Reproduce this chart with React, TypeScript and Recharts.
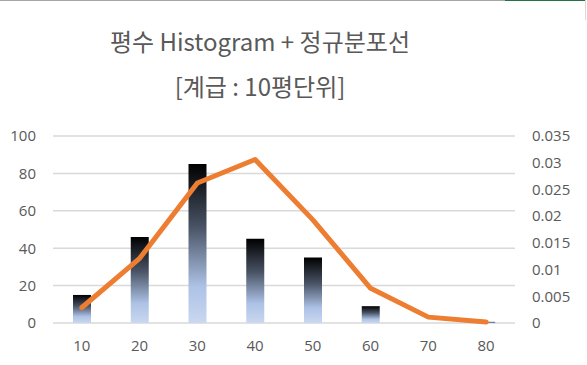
import React from "react";
import {
  ComposedChart,
  Bar,
  Line,
  XAxis,
  YAxis,
  CartesianGrid,
} from "recharts";

const classes = ["10", "20", "30", "40", "50", "60", "70", "80"];
const counts = [15, 46, 85, 45, 35, 9, 0, 0.6];
const normalDensity = [0.0029, 0.0121, 0.0262, 0.0306, 0.0193, 0.0065, 0.0011, 0.0002];
const leftTicks = [0, 20, 40, 60, 80, 100];
const rightTicks = [0, 0.005, 0.01, 0.015, 0.02, 0.025, 0.03, 0.035];

const data = classes.map((c, i) => ({
  cls: c,
  count: counts[i],
  density: normalDensity[i],
}));

const FONT = "'Noto Sans CJK KR', 'Noto Sans', sans-serif";
const TICK_FONT = "'Open Sans', 'Noto Sans', sans-serif";
const GREY = "#595959";

export default function App() {
  const tickStyle = { fill: GREY, fontSize: 15, fontFamily: TICK_FONT };
  return (
    <div
      style={{
        position: "absolute",
        left: 0,
        top: 0,
        width: 587,
        height: 365,
        background: "#fff",
        fontFamily: FONT,
      }}
    >
      <div style={{ position: "absolute", left: 0, top: 0, width: 505, height: 1, background: "#a6a6a6" }} />
      <div style={{ position: "absolute", left: 505, top: 0, width: 80, height: 1, background: "#217346" }} />
      <div style={{ position: "absolute", left: 585, top: 0, width: 1, height: 20, background: "#d9d9d9" }} />

      <div
        style={{
          position: "absolute",
          left: 0,
          width: 520,
          top: 24,
          textAlign: "center",
          fontSize: 24,
          lineHeight: "34px",
          color: GREY,
        }}
      >
        평수 Histogram + 정규분포선
      </div>
      <div
        style={{
          position: "absolute",
          left: 0,
          width: 520,
          top: 69,
          textAlign: "center",
          fontSize: 24,
          lineHeight: "34px",
          color: GREY,
        }}
      >
        [계급 : 10평단위]
      </div>

      <ComposedChart
        width={587}
        height={365}
        data={data}
        margin={{ top: 136, right: 0, bottom: 0, left: 0 }}
        style={{ position: "absolute", left: 0, top: 0 }}
      >
        <defs>
          <linearGradient id="barFill" x1="0" y1="0" x2="0" y2="1">
            <stop offset="0%" stopColor="#000000" />
            <stop offset="40%" stopColor="#4a5466" />
            <stop offset="77%" stopColor="#adc2e6" />
            <stop offset="100%" stopColor="#cad8f0" />
          </linearGradient>
        </defs>
        <CartesianGrid
          yAxisId="left"
          vertical={false}
          stroke="#d9d9d9"
          strokeWidth={1.5}
        />
        <XAxis
          dataKey="cls"
          height={42}
          axisLine={false}
          tickLine={false}
          tickSize={0}
          tickMargin={17}
          tick={tickStyle}
        />
        <YAxis
          yAxisId="left"
          orientation="left"
          width={53}
          domain={[0, 100]}
          ticks={leftTicks}
          axisLine={false}
          tickLine={false}
          tickSize={0}
          tickMargin={17}
          tick={tickStyle}
        />
        <YAxis
          yAxisId="right"
          orientation="right"
          width={72}
          domain={[0, 0.035]}
          ticks={rightTicks}
          axisLine={false}
          tickLine={false}
          tickSize={0}
          tickMargin={17}
          tickFormatter={(v: number) => String(Number(v.toFixed(3)))}
          tick={{ ...tickStyle, textAnchor: "start" }}
        />
        <Bar
          yAxisId="left"
          dataKey="count"
          barSize={18}
          fill="url(#barFill)"
          isAnimationActive={false}
        />
        <Line
          yAxisId="right"
          dataKey="density"
          type="linear"
          stroke="#ed7d31"
          strokeWidth={5}
          strokeLinecap="round"
          strokeLinejoin="round"
          dot={false}
          activeDot={false}
          isAnimationActive={false}
        />
      </ComposedChart>
    </div>
  );
}
